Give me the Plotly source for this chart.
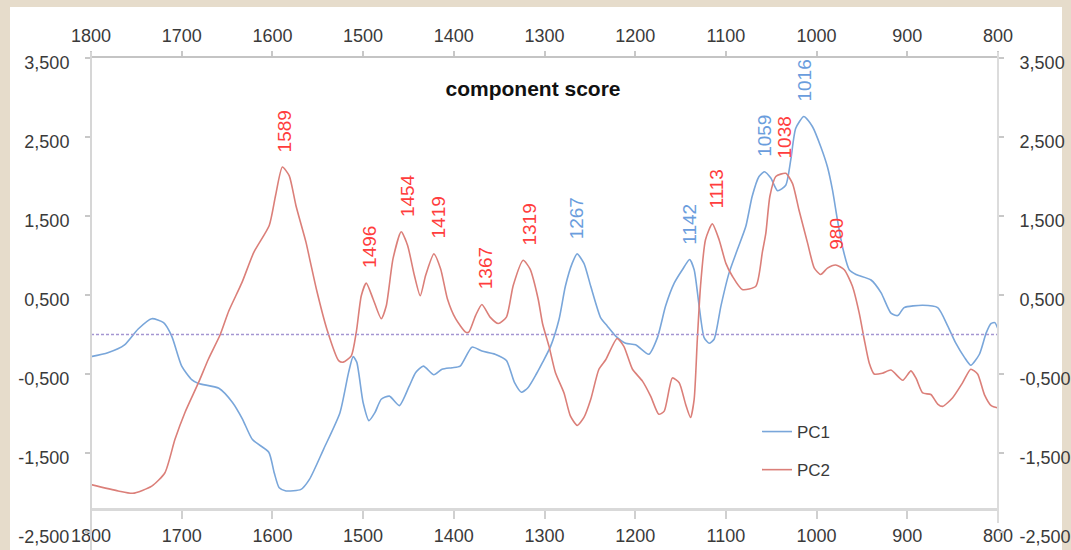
import numpy as np
import plotly.graph_objects as go

# ---------------- data ----------------
pc1_wavenumber = [1800, 1781.5, 1763, 1748, 1733, 1720, 1711, 1700, 1689, 1681.5, 1659, 1644, 1633, 1622,
                  1604, 1598, 1592.5, 1585, 1568.5, 1559, 1543.5, 1525.5, 1516, 1511, 1507, 1500, 1493.5,
                  1487, 1480, 1471, 1460, 1449, 1442, 1433.5, 1422, 1413, 1402, 1393, 1380, 1369, 1354.5,
                  1342, 1333, 1325.5, 1318, 1309, 1302, 1293.3, 1284, 1277, 1269.5, 1264, 1256.5, 1249,
                  1238, 1231, 1221.5, 1210.5, 1199.5, 1185, 1175.5, 1166.5, 1157, 1148, 1140, 1135, 1129.5,
                  1124, 1118.5, 1113, 1105.5, 1096.5, 1087.5, 1078, 1071, 1063.5, 1057.5, 1050.5, 1043,
                  1034, 1028.5, 1023, 1014, 1004.5, 995.5, 988, 982.5, 977, 971.5, 964, 956.5, 940, 929,
                  918, 910.5, 903.5, 883, 866.5, 855.5, 846.5, 837, 830, 820.5, 813, 807.5, 803.5, 800]
pc1_score = [-0.28, -0.23, -0.13, 0.07, 0.20, 0.15, -0.02, -0.40, -0.57, -0.62, -0.68, -0.86, -1.07, -1.33,
             -1.49, -1.75, -1.94, -1.98, -1.96, -1.83, -1.45, -0.99, -0.48, -0.28, -0.35, -0.86, -1.09,
             -0.99, -0.82, -0.78, -0.90, -0.65, -0.48, -0.40, -0.51, -0.44, -0.42, -0.40, -0.16, -0.21, -0.25,
             -0.33, -0.61, -0.73, -0.67, -0.50, -0.35, -0.15, 0.19, 0.61, 0.90, 1.02, 0.90, 0.61,
             0.21, 0.11, -0.02, -0.11, -0.13, -0.25, -0.04, 0.36, 0.65, 0.82, 0.95, 0.82, 0.36,
             -0.04, -0.11, -0.06, 0.36, 0.78, 1.07, 1.37, 1.75, 2.00, 2.06, 1.98, 1.82,
             1.89, 2.21, 2.61, 2.76, 2.63, 2.38, 2.12, 1.83, 1.45, 1.11, 0.82, 0.76, 0.69, 0.53,
             0.27, 0.24, 0.34, 0.37, 0.34, 0.11, -0.11, -0.29, -0.39, -0.25, 0.02, 0.14, 0.15, 0.07]

pc2_wavenumber = [1800, 1770, 1754, 1733, 1718.5, 1707.5, 1696.5, 1681.5, 1670.5, 1657.5, 1648, 1633.5,
                  1620.5, 1603.5, 1596.5, 1589, 1581.5, 1574, 1563, 1558, 1551, 1540, 1527, 1522, 1513,
                  1507.5, 1502, 1496.5, 1489, 1480, 1474.5, 1467, 1458, 1451, 1443.5, 1437, 1431, 1422,
                  1414.5, 1407, 1398, 1387, 1383.5, 1376, 1369, 1360, 1351, 1342, 1334.5, 1323.5, 1316,
                  1307, 1302, 1295, 1288, 1278.5, 1271.5, 1264, 1256.5, 1249, 1240, 1232.5, 1220, 1212.5,
                  1203, 1192, 1183, 1174, 1168, 1159, 1151.5, 1144.5, 1139, 1135, 1131.5, 1128, 1122.5,
                  1115, 1107.5, 1100, 1093, 1082, 1067, 1059.7, 1056, 1051.5, 1045, 1034, 1026.5, 1019.5,
                  1010, 1002.5, 995.5, 988, 979, 969.5, 960.5, 953, 947.5, 942, 936.5, 927.5, 918, 905,
                  896, 890.5, 883, 874, 866.5, 861, 850, 839, 830, 822.5, 815, 807.5, 800]
pc2_score = [-1.90, -1.98, -2.01, -1.92, -1.75, -1.33, -0.99, -0.61, -0.31, 0.00, 0.30, 0.66,
             1.04, 1.38, 1.76, 2.12, 2.01, 1.63, 1.17, 0.91, 0.55, 0.07, -0.33, -0.35, -0.27,
             0.03, 0.49, 0.65, 0.45, 0.20, 0.36, 0.96, 1.30, 1.13, 0.75, 0.49, 0.75, 1.02,
             0.83, 0.45, 0.20, 0.03, 0.03, 0.24, 0.38, 0.22, 0.14, 0.22, 0.62, 0.94, 0.83,
             0.45, 0.13, -0.15, -0.48, -0.74, -1.03, -1.15, -1.05, -0.82, -0.44, -0.32, -0.05, -0.15,
             -0.44, -0.59, -0.78, -1.01, -0.97, -0.55, -0.61, -0.88, -1.05, -0.82, -0.06, 0.61, 1.20,
             1.40, 1.20, 0.90, 0.74, 0.57, 0.61, 1.05, 1.28, 1.75, 2.00, 2.04, 1.91, 1.58,
             1.16, 0.84, 0.76, 0.84, 0.88, 0.82, 0.61, 0.27, -0.06, -0.36, -0.50, -0.49, -0.45, -0.58,
             -0.46, -0.55, -0.74, -0.76, -0.88, -0.91, -0.80, -0.61, -0.44, -0.50, -0.76, -0.90, -0.93]

peak_labels = ["1589", "1496", "1454", "1419", "1367", "1319", "1267", "1142", "1113",
               "1059", "1038", "1016", "980"]
peak_series = ["PC2", "PC2", "PC2", "PC2", "PC2", "PC2", "PC1", "PC1", "PC2",
               "PC1", "PC2", "PC1", "PC2"]

x_ticks = [1800, 1700, 1600, 1500, 1400, 1300, 1200, 1100, 1000, 900, 800]
x_tick_labels = ["1800", "1700", "1600", "1500", "1400", "1300", "1200", "1100", "1000", "900", "800"]
y_ticks = [3.5, 2.5, 1.5, 0.5, -0.5, -1.5, -2.5]
y_tick_labels = ["3,500", "2,500", "1,500", "0,500", "-0,500", "-1,500", "-2,500"]

title_text = "component score"

# ---------------- styling ----------------
W, H = 1071, 550
ML, MR, MT, MB = 91, 73, 58, 18
PW, PH = W - ML - MR, H - MT - MB
BLUE_LINE = "#79a6da"
RED_LINE = "#db7f79"
BLUE_TEXT = "#6a9ddd"
RED_TEXT = "#ff3d3d"
TXT = "#3a3a3a"
FONT = "Liberation Sans, Arial, sans-serif"


def px_x(p):
    return (p - ML) / PW


def px_y(p):
    return (MT + PH - p) / PH


series = {
    "PC1": (pc1_wavenumber, pc1_score, BLUE_LINE, BLUE_TEXT),
    "PC2": (pc2_wavenumber, pc2_score, RED_LINE, RED_TEXT),
}

fig = go.Figure()
for name, (wn, sc, col, _) in series.items():
    fig.add_trace(go.Scatter(
        x=wn, y=sc, name=name, mode="lines",
        line=dict(color=col, width=1.6, shape="spline", smoothing=0.6),
        legendgroup=name, xaxis="x", yaxis="y",
    ))

# peak labels, placed just above the local maximum of their series
annotations = []
for lbl, ser in zip(peak_labels, peak_series):
    wn, sc, _, tcol = series[ser]
    v = float(lbl)
    grid = np.linspace(v - 6, v + 6, 25)
    yv = float(np.max(np.interp(grid, wn[::-1], sc[::-1])))
    annotations.append(dict(
        x=v, y=yv, xref="x", yref="y", text=lbl, showarrow=False,
        textangle=-90, xanchor="center", yanchor="bottom", xshift=2, yshift=13,
        font=dict(family=FONT, size=19, color=tcol),
    ))

shapes = [
    # white chart panel over the textured page
    dict(type="rect", xref="paper", yref="paper", layer="below",
         x0=px_x(10), x1=px_x(1062), y0=px_y(7), y1=px_y(560),
         fillcolor="white", line=dict(width=0)),
    # zero line
    dict(type="line", xref="x", yref="y", x0=1800, x1=800, y0=0, y1=0,
         line=dict(color="#a596d2", width=1.5, dash="3px,2px")),
    # left / right vertical axis lines
    dict(type="line", xref="paper", yref="paper", x0=0, x1=0, y0=px_y(52), y1=px_y(550),
         line=dict(color="#d6d6d6", width=2)),
    dict(type="line", xref="paper", yref="paper", x0=1, x1=1, y0=px_y(52), y1=px_y(523),
         line=dict(color="#dcdcdc", width=2)),
]

axis_font = dict(family=FONT, size=18, color=TXT)

fig.update_layout(
    width=W, height=H,
    margin=dict(l=ML, r=MR, t=MT, b=MB, pad=0, autoexpand=False),
    paper_bgcolor="#e6dccb",
    plot_bgcolor="white",
    showlegend=True,
    title=dict(text="<b>" + title_text + "</b>", x=px_x(533), xref="paper", xanchor="center",
               y=px_y(89), yref="paper", yanchor="middle", automargin=False,
               font=dict(family=FONT, size=21, color="#111111")),
    xaxis=dict(range=[1800, 800], anchor="free", position=px_y(509.3), side="bottom",
               tickvals=x_ticks, ticktext=x_tick_labels, ticks="outside", ticklen=8,
               tickcolor="#d0d0d0", tickwidth=1.5, showline=True, linecolor="#d9d9d9",
               linewidth=2.5, showgrid=False, zeroline=False, tickfont=axis_font,
               ticklabelstandoff=1, automargin=False),
    xaxis2=dict(range=[1800, 800], overlaying="x", anchor="y", side="top",
                tickvals=x_ticks, ticktext=x_tick_labels, ticks="outside", ticklen=5,
                tickcolor="#c8c8c8", tickwidth=1.5, showline=True, linecolor="#c4c4c4",
                linewidth=1.5, showgrid=False, zeroline=False, tickfont=axis_font,
                ticklabelstandoff=2, automargin=False),
    yaxis=dict(range=[-2.5, 3.5], tickvals=y_ticks, ticktext=y_tick_labels, ticks="outside",
               ticklen=5, tickcolor="#c8c8c8", tickwidth=1.5, showline=False, showgrid=False,
               zeroline=False, tickfont=axis_font, ticklabelstandoff=12, ticklabelshift=5,
               automargin=False),
    yaxis2=dict(range=[-2.5, 3.5], overlaying="y", side="right", anchor="x",
                tickvals=y_ticks, ticktext=y_tick_labels, ticks="outside", ticklen=5,
                tickcolor="#c8c8c8", tickwidth=1.5, showline=False, showgrid=False,
                zeroline=False, tickfont=axis_font, ticklabelstandoff=12, ticklabelshift=5,
                automargin=False),
    legend=dict(x=px_x(757), y=px_y(414), xanchor="left", yanchor="top",
                bgcolor="rgba(0,0,0,0)", borderwidth=0, tracegroupgap=13,
                font=dict(family=FONT, size=17, color=TXT), itemwidth=30),
    shapes=shapes,
    annotations=annotations,
)

# invisible helper trace so the top x axis and right y axis are drawn
fig.add_trace(go.Scatter(x=[1800], y=[0], xaxis="x2", yaxis="y2", mode="markers",
                         marker=dict(opacity=0), showlegend=False, hoverinfo="skip"))

fig.write_html("out.html")
